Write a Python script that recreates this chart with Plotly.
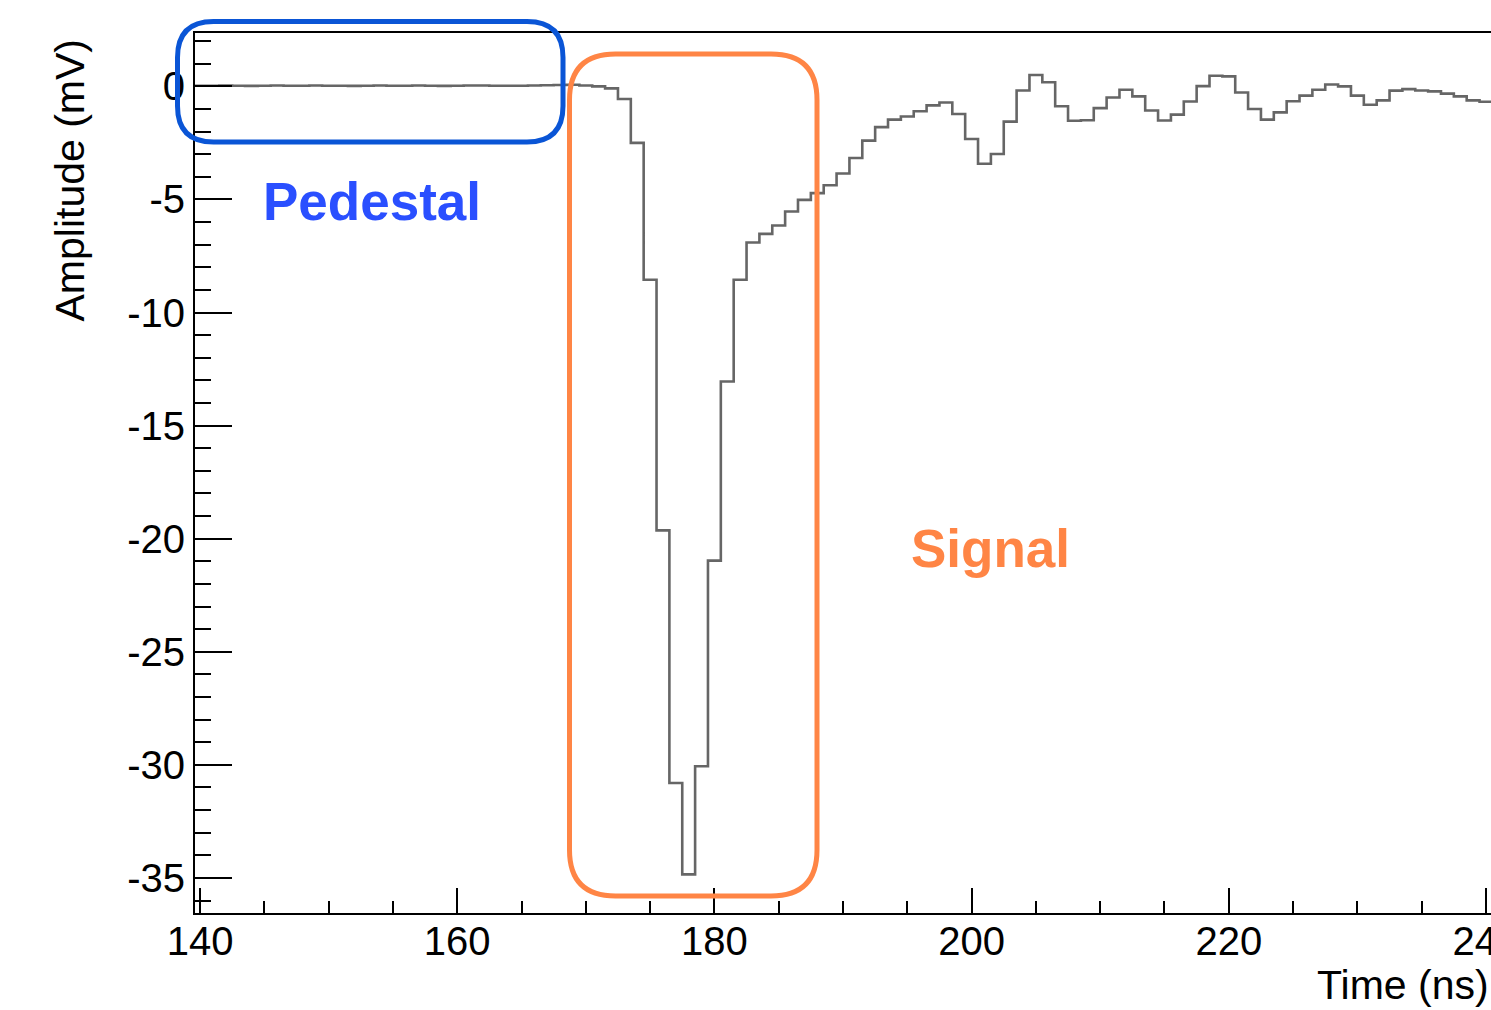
import numpy as np
import plotly.graph_objects as go

# ---------------- data ----------------
bin_centers = list(range(139, 241))  # ns, 1 ns bins
amplitude = [
    # 139 .. 168  (pedestal)
    0.03, 0.03, 0.03, 0.04, 0.03, 0.02, 0.03, 0.04, 0.03, 0.03,
    0.04, 0.03, 0.03, 0.02, 0.03, 0.04, 0.03, 0.03, 0.04, 0.03,
    0.02, 0.03, 0.04, 0.04, 0.03, 0.03, 0.03, 0.04, 0.05, 0.06,
    # 169 .. 178
    0.07, 0.04, 0.00, -0.09, -0.56, -2.50, -8.55, -19.63, -30.80, -34.84,
    # 179 .. 188
    -30.06, -20.97, -13.05, -8.55, -6.90, -6.52, -6.15, -5.53, -5.02, -4.72,
    # 189 .. 198
    -4.37, -3.85, -3.17, -2.40, -1.80, -1.47, -1.33, -1.10, -0.84, -0.71,
    # 199 .. 208
    -1.22, -2.33, -3.42, -2.99, -1.56, -0.18, 0.50, 0.18, -0.88, -1.52,
    # 209 .. 218
    -1.50, -0.96, -0.49, -0.15, -0.44, -1.07, -1.51, -1.25, -0.67, 0.01,
    # 219 .. 228
    0.47, 0.44, -0.27, -1.00, -1.47, -1.15, -0.66, -0.41, -0.15, 0.08,
    # 229 .. 240
    0.00, -0.41, -0.81, -0.62, -0.19, -0.12, -0.18, -0.22, -0.32, -0.44,
    -0.62, -0.68,
]
x_tick_vals = [140, 160, 180, 200, 220, 240]
x_tick_text = ["140", "160", "180", "200", "220", "240"]
y_tick_vals = [0, -5, -10, -15, -20, -25, -30, -35]
y_tick_text = ["0", "-5", "-10", "-15", "-20", "-25", "-30", "-35"]

# ---------------- geometry ----------------
W, H = 1491, 1010
L, R, T, B = 195, 0, 33, 97
PW, PH = W - L - R, H - T - B
X_RANGE = [139.61, 240.39]
Y_RANGE = [-36.55, 2.36]
FONT = "Liberation Sans, Arial, Helvetica, sans-serif"


def px(xp):
    return (xp - L) / PW


def py(yp):
    return (H - B - yp) / PH


def rounded_rect(x0, y0, x1, y1, r):
    # pixel coords (y downward) -> paper path with rounded corners
    pts = [
        f"M {px(x0 + r)} {py(y0)}",
        f"L {px(x1 - r)} {py(y0)}",
        f"Q {px(x1)} {py(y0)} {px(x1)} {py(y0 + r)}",
        f"L {px(x1)} {py(y1 - r)}",
        f"Q {px(x1)} {py(y1)} {px(x1 - r)} {py(y1)}",
        f"L {px(x0 + r)} {py(y1)}",
        f"Q {px(x0)} {py(y1)} {px(x0)} {py(y1 - r)}",
        f"L {px(x0)} {py(y0 + r)}",
        f"Q {px(x0)} {py(y0)} {px(x0 + r)} {py(y0)}",
        "Z",
    ]
    return " ".join(pts)


# histogram outline from bin edges
centers = np.array(bin_centers, dtype=float)
edges = np.append(centers - 0.5, centers[-1] + 0.5)
vals = np.append(np.array(amplitude), amplitude[-1])

fig = go.Figure()
fig.add_trace(go.Scatter(
    x=edges, y=vals, mode="lines",
    line=dict(shape="hv", color="#666666", width=2.6),
    hoverinfo="skip", showlegend=False,
))

axis_common = dict(
    showgrid=False, zeroline=False, showline=True, linecolor="black",
    linewidth=2, ticks="inside", tickcolor="black", tickwidth=2,
    automargin=False,
    tickfont=dict(family=FONT, size=40, color="black"),
)

fig.update_layout(
    width=W, height=H,
    margin=dict(l=L, r=R, t=T, b=B, pad=0, autoexpand=False),
    paper_bgcolor="white", plot_bgcolor="white",
    showlegend=False,
    xaxis=dict(
        range=X_RANGE, tickmode="array", tickvals=x_tick_vals, ticktext=x_tick_text,
        ticklen=25, mirror=True, ticklabeloverflow="allow", ticklabelstandoff=-8,
        minor=dict(dtick=5, tick0=140, ticklen=12, ticks="inside",
                   tickcolor="black", tickwidth=2),
        **axis_common,
    ),
    yaxis=dict(
        range=Y_RANGE, tickmode="array", tickvals=y_tick_vals, ticktext=y_tick_text,
        ticklen=37, ticklabelstandoff=0,
        minor=dict(dtick=1, tick0=0, ticklen=16, ticks="inside",
                   tickcolor="black", tickwidth=2),
        **axis_common,
    ),
)

# axis titles (ROOT style, aligned to the axis ends)
fig.add_annotation(
    text="Time (ns)", xref="paper", yref="paper", x=1.0, y=py(985),
    xanchor="right", yanchor="middle", showarrow=False,
    font=dict(family=FONT, size=41, color="black"),
)
fig.add_annotation(
    text="Amplitude (mV)", xref="paper", yref="paper", x=px(70), y=py(37),
    xanchor="center", yanchor="top", textangle=-90, showarrow=False,
    font=dict(family=FONT, size=41, color="black"),
)

# highlight boxes
fig.add_shape(type="path", xref="paper", yref="paper",
              path=rounded_rect(177.5, 21.5, 563, 142, 36),
              line=dict(color="#0A55D6", width=5), layer="above")
fig.add_shape(type="path", xref="paper", yref="paper",
              path=rounded_rect(569.5, 54, 817, 896, 46),
              line=dict(color="#FF8545", width=5), layer="above")

fig.add_annotation(
    text="<b>Pedestal</b>", xref="paper", yref="paper", x=px(372), y=py(202),
    xanchor="center", yanchor="middle", showarrow=False,
    font=dict(family=FONT, size=53, color="#2A4FFF"),
)
fig.add_annotation(
    text="<b>Signal</b>", xref="paper", yref="paper", x=px(990), y=py(548),
    xanchor="center", yanchor="middle", showarrow=False,
    font=dict(family=FONT, size=53, color="#FF8545"),
)

fig.write_html(
    "out.html",
    config={"displayModeBar": False},
    post_script="document.body.style.margin='0';document.body.style.overflow='hidden';",
)
